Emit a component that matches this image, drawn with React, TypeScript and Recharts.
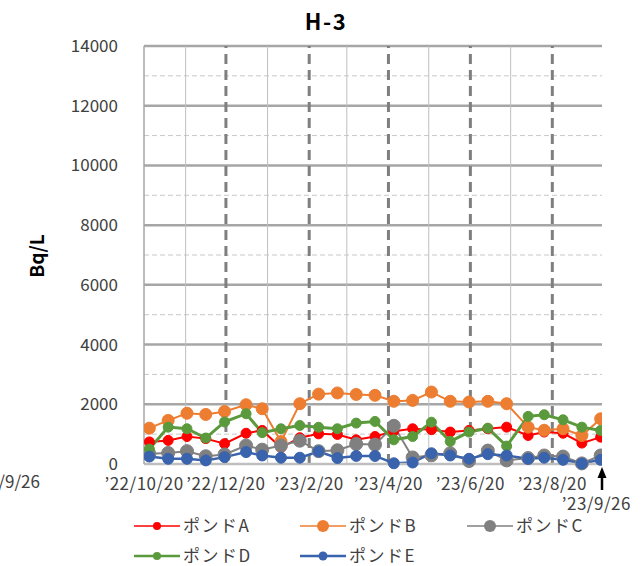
import React from 'react';
import { LineChart, Line, XAxis, YAxis, ReferenceLine, Legend } from 'recharts';

// ---- data ----
const axisStart = '2022-10-20';
const axisEnd = '2023-09-26';
const sampleDates = [
  '2022-10-24', '2022-11-07', '2022-11-21', '2022-12-05', '2022-12-19',
  '2023-01-04', '2023-01-16', '2023-01-30', '2023-02-13', '2023-02-27',
  '2023-03-13', '2023-03-27', '2023-04-10', '2023-04-24', '2023-05-08',
  '2023-05-22', '2023-06-05', '2023-06-19', '2023-07-03', '2023-07-17',
  '2023-08-02', '2023-08-14', '2023-08-28', '2023-09-11', '2023-09-25',
];
const pondA = [740, 790, 920, 850, 680, 1030, 1125, 550, 880, 1010, 990, 810, 920, 1100, 1180, 1150, 1070, 1125, 1180, 1235, 955, 1070, 1030, 700, 900];
const pondB = [1200, 1460, 1700, 1660, 1760, 1985, 1850, 750, 2020, 2340, 2380, 2330, 2300, 2100, 2130, 2410, 2100, 2075, 2100, 2020, 1235, 1130, 1180, 955, 1515];
const pondC = [340, 370, 430, 260, 320, 620, 480, 620, 780, 430, 460, 670, 650, 1280, 220, 290, 360, 100, 450, 120, 200, 285, 250, 20, 285];
const pondD = [500, 1235, 1180, 870, 1410, 1685, 1050, 1180, 1290, 1230, 1180, 1370, 1425, 810, 920, 1400, 755, 1070, 1200, 600, 1595, 1650, 1480, 1235, 1125];
const pondE = [250, 175, 175, 120, 230, 400, 285, 210, 210, 420, 200, 270, 270, 25, 50, 360, 285, 175, 330, 285, 175, 210, 140, 15, 140];

const labelDates = ['2022-10-20', '2022-12-20', '2023-02-20', '2023-04-20', '2023-06-20', '2023-08-20'];
const tickLabels = ['’22/10/20', '’22/12/20', '’23/2/20', '’23/4/20', '’23/6/20', '’23/8/20'];
const minorMonthDates = ['2022-11-20', '2023-01-20', '2023-03-20', '2023-05-20', '2023-07-20'];
const yTicks = [0, 2000, 4000, 6000, 8000, 10000, 12000, 14000];
const yMinor = [1000, 3000, 5000, 7000, 9000, 11000, 13000];

const seriesNames = ['ポンドA', 'ポンドB', 'ポンドC', 'ポンドD', 'ポンドE'];
const seriesKeys = ['A', 'B', 'C', 'D', 'E'];
const seriesColors = ['#FF0000', '#ED7D31', '#808080', '#5B9A3C', '#3A63AD'];

// ---- helpers ----
const dayOf = (s: string) =>
  Math.round((new Date(s + 'T00:00:00Z').getTime() - new Date(axisStart + 'T00:00:00Z').getTime()) / 86400000);

const data = sampleDates.map((d, i) => ({
  day: dayOf(d),
  A: pondA[i],
  B: pondB[i],
  C: pondC[i],
  D: pondD[i],
  E: pondE[i],
}));

const labelDays = labelDates.map(dayOf);
const minorDays = minorMonthDates.map(dayOf);
const endDay = dayOf(axisEnd);
const labelByDay: Record<number, string> = {};
labelDays.forEach((d, i) => (labelByDay[d] = tickLabels[i]));

const FONT = '"Noto Sans CJK JP", "Liberation Sans", sans-serif';
const TXT = '#404040';

const lineWidths = [2, 2, 2, 3, 2.5];
const dotRadius = [5, 6, 6.5, 5, 5.5];
const legendDotR = [4, 6, 6, 4, 4.5];

const legendPos = [
  { x: 134, y: 21 },
  { x: 300, y: 21 },
  { x: 467, y: 21 },
  { x: 134, y: 51 },
  { x: 300, y: 51 },
];

const renderLegend = () => (
  <svg width={642} height={61} style={{ display: 'block', overflow: 'visible' }}>
    {seriesNames.map((n, i) => {
      const p = legendPos[i];
      return (
        <g key={n}>
          <line x1={p.x} x2={p.x + 46} y1={p.y} y2={p.y} stroke={seriesColors[i]} strokeWidth={i === 3 || i === 4 ? 2.5 : 1.5} />
          <circle cx={p.x + 23} cy={p.y} r={legendDotR[i]} fill={seriesColors[i]} />
          <text x={p.x + 49} y={p.y + 6} fontSize={17} fill={TXT} fontFamily={FONT} letterSpacing={1.5}>
            {n}
          </text>
        </g>
      );
    })}
  </svg>
);

export default function App() {
  return (
    <div style={{ position: 'absolute', left: 0, top: 0, width: 642, height: 566, background: '#fff', overflow: 'hidden' }}>
      <LineChart
        width={642}
        height={566}
        data={data}
        margin={{ top: 46, right: 40, bottom: 72, left: 0 }}
        style={{ fontFamily: FONT }}
      >
        <XAxis
          dataKey="day"
          type="number"
          domain={[0, endDay]}
          ticks={labelDays}
          interval={0}
          tickFormatter={(v: number) => labelByDay[v] ?? ''}
          tick={{ fontSize: 17, fill: TXT, fontFamily: FONT, letterSpacing: 0.5 }}
          tickLine={false}
          tickSize={6}
          tickMargin={8}
          axisLine={{ stroke: '#BFBFBF', strokeWidth: 2.5 }}
          height={30}
          allowDataOverflow
        />
        <YAxis
          type="number"
          domain={[0, 14000]}
          ticks={yTicks}
          interval={0}
          tick={{ fontSize: 17, fill: TXT, fontFamily: FONT }}
          tickLine={false}
          tickSize={6}
          tickMargin={20}
          axisLine={{ stroke: '#A6A6A6', strokeWidth: 1.5 }}
          width={144}
        />
        {yMinor.map((v) => (
          <ReferenceLine key={'ym' + v} y={v} stroke="#C8C8C8" strokeWidth={1} strokeDasharray="5 3" />
        ))}
        {yTicks.filter((v) => v > 0).map((v) => (
          <ReferenceLine key={'yM' + v} y={v} stroke="#A6A6A6" strokeWidth={2.5} />
        ))}
        {minorDays.map((d) => (
          <ReferenceLine key={'xm' + d} x={d} stroke="#BFBFBF" strokeWidth={1} />
        ))}
        {labelDays.filter((d) => d > 0).map((d) => (
          <ReferenceLine key={'xd' + d} x={d} stroke="#7F7F7F" strokeWidth={3} strokeDasharray="10 6" />
        ))}
        <Legend
          verticalAlign="middle"
          layout="horizontal"
          align="center"
          content={renderLegend}
          wrapperStyle={{ top: 505, left: 0, width: 642, height: 61 }}
        />
        {seriesKeys.map((k, i) => (
          <Line
            key={k}
            type="linear"
            dataKey={k}
            name={seriesNames[i]}
            stroke={seriesColors[i]}
            strokeWidth={lineWidths[i]}
            dot={{ r: dotRadius[i], fill: seriesColors[i], stroke: seriesColors[i], strokeWidth: 1 }}
            activeDot={false}
            isAnimationActive={false}
          />
        ))}
      </LineChart>
      <svg
        width={642}
        height={566}
        style={{ position: 'absolute', left: 0, top: 0, pointerEvents: 'none' }}
      >
        <text x={326} y={30} textAnchor="middle" fontSize={22} fontWeight="bold" fill="#000" fontFamily={FONT} letterSpacing={1.5}>
          H-3
        </text>
        <text
          x={0}
          y={0}
          transform="translate(44,256) rotate(-90)"
          textAnchor="middle"
          fontSize={19}
          fontWeight="bold"
          fill="#000"
          fontFamily={FONT}
        >
          Bq/L
        </text>
        <text x={40} y={488} textAnchor="end" fontSize={17} fill={TXT} fontFamily={FONT}>
          ’22/9/26
        </text>
        <text x={631} y={510} textAnchor="end" fontSize={17} fill={TXT} fontFamily={FONT} letterSpacing={0.5}>
          ’23/9/26
        </text>
        <line x1={602} x2={602} y1={490} y2={475} stroke="#000" strokeWidth={2.5} />
        <polygon points="602,467 597.5,478 606.5,478" fill="#000" />
      </svg>
    </div>
  );
}
